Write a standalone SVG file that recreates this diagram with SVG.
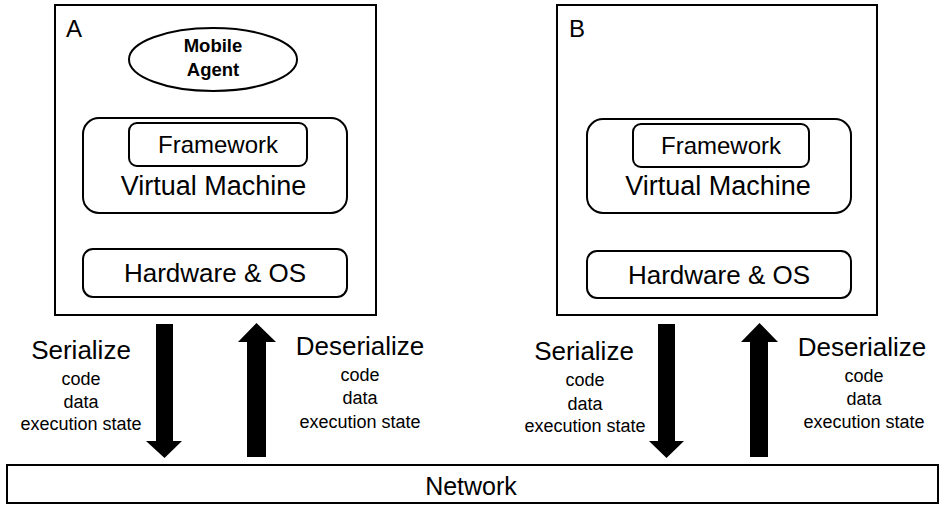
<svg xmlns="http://www.w3.org/2000/svg" width="943" height="505" viewBox="0 0 943 505">
  <style>
    text { font-family: "Liberation Sans", Arial, sans-serif; fill: #000; }
    .frame { fill: #fff; stroke: #000; stroke-width: 2; }
    .layer { fill: #fff; stroke: #000; stroke-width: 2; }
    .c { text-anchor: middle; }
    .big { font-size: 26px; }
    .small { font-size: 18px; }
    .arrow { fill: #000; }
  </style>

  <rect width="943" height="505" fill="#fff"/>

  <!-- Host A -->
  <g id="hostA">
    <rect class="frame" x="55" y="5" width="321" height="310"/>
    <text x="66" y="37" font-size="24">A</text>
  </g>
  <g id="mobileAgent">
    <ellipse class="layer" cx="213" cy="59.5" rx="84" ry="31.5"/>
    <text class="c" x="213" y="52" font-size="18.5" font-weight="bold">Mobile</text>
    <text class="c" x="213" y="76" font-size="18.5" font-weight="bold">Agent</text>
  </g>
  <g id="vmA">
    <rect class="layer" x="83" y="118" width="264" height="95" rx="16"/>
    <text class="c" x="213.5" y="195" font-size="27">Virtual Machine</text>
  </g>
  <g id="frameworkA">
    <rect class="layer" x="129" y="123" width="178" height="43" rx="8"/>
    <text class="c" x="218" y="153" font-size="24">Framework</text>
  </g>
  <g id="hardwareA">
    <rect class="layer" x="83" y="249" width="264" height="48" rx="10"/>
    <text class="c big" x="215" y="282">Hardware &amp; OS</text>
  </g>

  <!-- Host B -->
  <g id="hostB">
    <rect class="frame" x="557" y="5" width="320" height="310"/>
    <text x="569" y="37" font-size="24">B</text>
  </g>
  <g id="vmB">
    <rect class="layer" x="587" y="119" width="264" height="94" rx="16"/>
    <text class="c" x="718" y="195" font-size="27">Virtual Machine</text>
  </g>
  <g id="frameworkB">
    <rect class="layer" x="633" y="124" width="176" height="43" rx="8"/>
    <text class="c" x="721" y="154" font-size="24">Framework</text>
  </g>
  <g id="hardwareB">
    <rect class="layer" x="587" y="251" width="264" height="47" rx="10"/>
    <text class="c big" x="719" y="284">Hardware &amp; OS</text>
  </g>

  <!-- Network -->
  <g id="network">
    <rect class="frame" x="7" y="465" width="931" height="38"/>
    <text class="c" x="471" y="495" font-size="25">Network</text>
  </g>

  <!-- Block arrows between hosts and network -->
  <g id="connectors">
    <polygon class="arrow" points="156,324 173,324 173,441 182,441 164.5,458 146,441 156,441"/>
    <polygon class="arrow" points="247,457 266,457 266,342 276,342 256.5,323 238,342 247,342"/>
    <polygon class="arrow" points="658,324 675,324 675,441 684,441 666.5,458 649,441 658,441"/>
    <polygon class="arrow" points="750,457 768,457 768,342 778,342 759.5,323 741,342 750,342"/>
  </g>

  <!-- Arrow labels -->
  <g id="labelSerializeA">
    <text class="c big" x="81" y="359">Serialize</text>
    <text class="c small" x="81" y="385">code</text>
    <text class="c small" x="81" y="408">data</text>
    <text class="c small" x="81" y="430">execution state</text>
  </g>
  <g id="labelDeserializeA">
    <text class="c big" x="360" y="355">Deserialize</text>
    <text class="c small" x="360" y="381">code</text>
    <text class="c small" x="360" y="404">data</text>
    <text class="c small" x="360" y="428">execution state</text>
  </g>
  <g id="labelSerializeB">
    <text class="c big" x="584" y="360">Serialize</text>
    <text class="c small" x="585" y="386">code</text>
    <text class="c small" x="585" y="410">data</text>
    <text class="c small" x="585" y="432">execution state</text>
  </g>
  <g id="labelDeserializeB">
    <text class="c big" x="862" y="356">Deserialize</text>
    <text class="c small" x="864" y="382">code</text>
    <text class="c small" x="864" y="405">data</text>
    <text class="c small" x="864" y="428">execution state</text>
  </g>
</svg>
